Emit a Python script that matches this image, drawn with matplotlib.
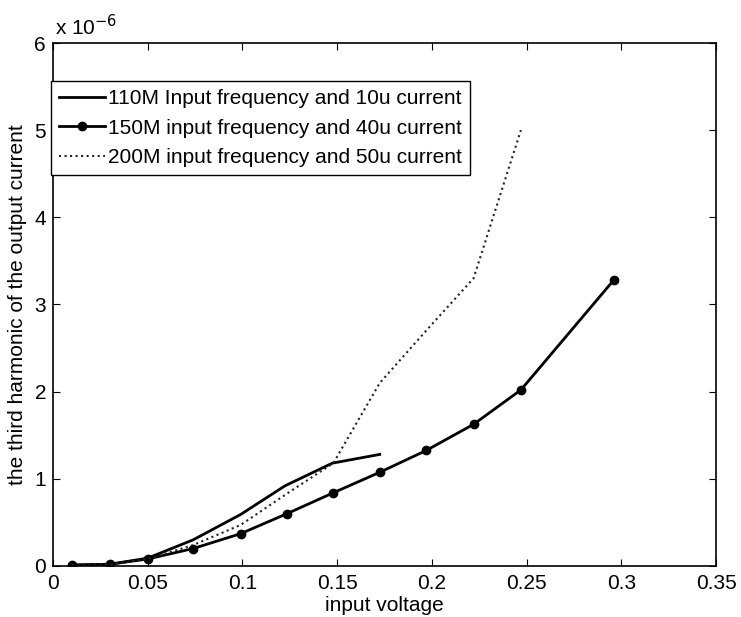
import matplotlib
matplotlib.use("Agg")
import matplotlib.pyplot as plt
from matplotlib.ticker import FuncFormatter

plt.rcParams['font.family'] = ['Liberation Sans', 'DejaVu Sans']

SCALE = 1e-6

# 110M input frequency and 10u current
x110 = [0.010, 0.030, 0.050, 0.074, 0.099, 0.1225, 0.1475, 0.1725]
y110 = [0.01, 0.02, 0.09, 0.30, 0.59, 0.92, 1.18, 1.28]

# 150M input frequency and 40u current
x150 = [0.010, 0.030, 0.050, 0.074, 0.099, 0.1235, 0.148, 0.1725, 0.197, 0.222, 0.247, 0.296]
y150 = [0.01, 0.02, 0.08, 0.20, 0.37, 0.60, 0.84, 1.075, 1.325, 1.625, 2.02, 3.28]

# 200M input frequency and 50u current
x200 = [0.010, 0.030, 0.050, 0.074, 0.099, 0.1235, 0.148, 0.1725, 0.197, 0.222, 0.247]
y200 = [0.01, 0.02, 0.08, 0.24, 0.47, 0.83, 1.18, 2.10, 2.70, 3.30, 5.00]

labels = ['110M Input frequency and 10u current',
          '150M input frequency and 40u current',
          '200M input frequency and 50u current']

xticks = [0, 0.05, 0.1, 0.15, 0.2, 0.25, 0.3, 0.35]
xticklabels = ['0', '0.05', '0.1', '0.15', '0.2', '0.25', '0.3', '0.35']
yticks = [0, 1, 2, 3, 4, 5, 6]

FS = 15

fig = plt.figure(figsize=(7.41, 6.17), dpi=100)
ax = fig.add_axes([0.0715, 0.0827, 0.8948, 0.8476])

ax.plot(x110, [v * SCALE for v in y110], color='black', lw=2.0, label=labels[0])
ax.plot(x150, [v * SCALE for v in y150], color='black', lw=2.0, marker='o',
        markersize=6, label=labels[1])
ax.plot(x200, [v * SCALE for v in y200], color='#222222', lw=1.5, ls=':',
        label=labels[2])

ax.set_xlim(0, 0.35)
ax.set_ylim(0, 6 * SCALE)
ax.set_xticks(xticks)
ax.set_xticklabels(xticklabels)
ax.set_yticks([t * SCALE for t in yticks])
ax.yaxis.set_major_formatter(FuncFormatter(lambda v, p: '%g' % round(v / SCALE, 6)))

ax.tick_params(direction='in', top=True, right=True, length=5, width=0.8,
               labelsize=FS)
ax.tick_params(axis='x', pad=6)
ax.tick_params(axis='y', pad=5)
for s in ax.spines.values():
    s.set_linewidth(1.2)

ax.set_xlabel('input voltage', fontsize=FS, labelpad=2)
ax.set_ylabel('the third harmonic of the output current', fontsize=FS, labelpad=5)

ax.text(0.003, 1.008, r'x 10$^{-6}$', transform=ax.transAxes, fontsize=FS,
        ha='left', va='bottom')

leg = ax.legend(loc='upper left', bbox_to_anchor=(-0.003, 0.927),
                borderaxespad=0, fontsize=FS, fancybox=False, framealpha=1,
                edgecolor='black', handlelength=2.2, handletextpad=0.15,
                labelspacing=0.5, borderpad=0.38)
leg.get_frame().set_linewidth(1.0)

fig.savefig('out.png', dpi=100)
